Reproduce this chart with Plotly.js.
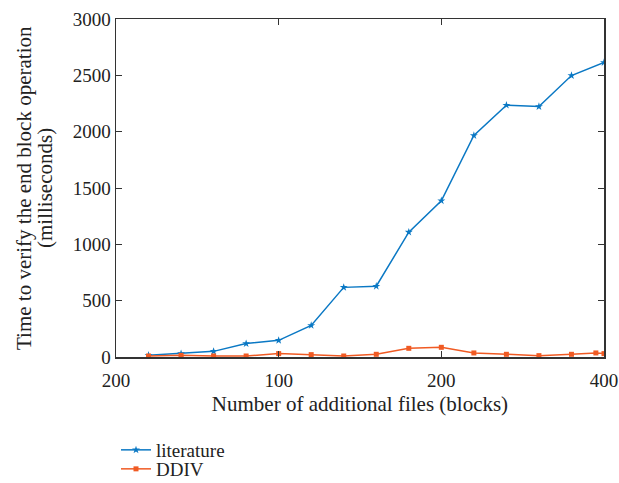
<!DOCTYPE html>
<html><head><meta charset="utf-8">
<script src="https://cdn.plot.ly/plotly-3.0.1.min.js"></script>
<style>html,body{margin:0;padding:0;background:#fff}</style>
</head><body><div id="chart" style="width:619px;height:483px"></div>
<script>
const litX = [20,40,60,80,100,120,140,160,180,200,220,240,260,280,300];
const litY = [15,30,50,119,148,280,618,628,1108,1387,1966,2235,2223,2498,2614];
const ddivX = [20,40,60,80,100,120,140,160,180,200,220,240,260,280,295,300];
const ddivY = [9,15,9,9,30,21,9,24,77,86,36,24,12,24,36,30];
const xTickVals = [0,100,200,300];
const xTickText = ["200","100","200","400"];
const yTickVals = [0,500,1000,1500,2000,2500,3000];
const yTitleLines = ["Time to verify the end block operation", "(milliseconds)"];
const xTitle = "Number of additional files (blocks)";

const fam = "Liberation Serif, Times New Roman, serif";
const tickFont = {family:fam, size:19, color:"#222"};
const titleFont = {family:fam, size:21, color:"#222"};
const blue = "#0A78C4", orange = "#F05A23";
const traces = [
  {x:litX, y:litY, name:"literature", legend:"legend", mode:"lines+markers", line:{color:blue, width:1.5}, marker:{symbol:"star", size:6, color:blue}},
  {x:ddivX, y:ddivY, name:"DDIV", legend:"legend2", mode:"lines+markers", line:{color:orange, width:1.5}, marker:{symbol:"square", size:5, color:orange}}
];
const axBase = {showgrid:false, zeroline:false, showline:true, linecolor:"#333", linewidth:1.5, mirror:"ticks", ticks:"inside", ticklen:6, tickcolor:"#333", tickfont:tickFont, automargin:false};
const legBase = {xref:"container", yref:"container", x:116/619, xanchor:"left", yanchor:"middle", font:{family:fam, size:19, color:"#222"}, bgcolor:"rgba(0,0,0,0)", itemwidth:30};
const layout = {
  width:619, height:483, margin:{l:116, r:15, t:19, b:126, autoexpand:false},
  paper_bgcolor:"#fff", plot_bgcolor:"#fff", font:tickFont,
  xaxis:Object.assign({}, axBase, {range:[0,300], tickvals:xTickVals, ticktext:xTickText, ticklabelstandoff:6, title:{text:xTitle, font:titleFont, standoff:6}}),
  yaxis:Object.assign({}, axBase, {range:[0,3000], tickvals:yTickVals}),
  legend:Object.assign({}, legBase, {y:1-450/483}),
  legend2:Object.assign({}, legBase, {y:1-469/483}),
  annotations:[
    {text:yTitleLines[0], xref:"paper", yref:"paper", x:(24-116)/488, y:0.5, xanchor:"center", yanchor:"middle", textangle:-90, showarrow:false, font:titleFont},
    {text:yTitleLines[1], xref:"paper", yref:"paper", x:(45-116)/488, y:0.5, xanchor:"center", yanchor:"middle", textangle:-90, showarrow:false, font:titleFont}
  ],
  showlegend:true
};
Plotly.newPlot("chart", traces, layout, {displayModeBar:false, staticPlot:true});
</script></body></html>
